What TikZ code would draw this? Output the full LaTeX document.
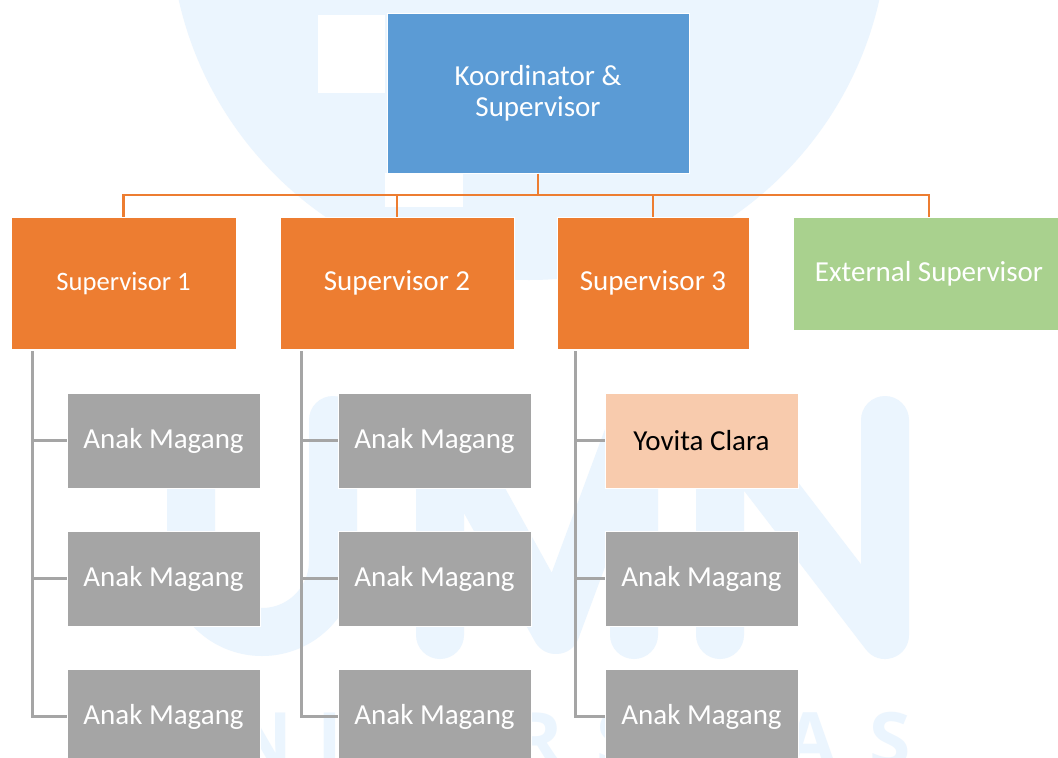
\documentclass[tikz,border=0pt]{standalone}
\usepackage{fontspec}
\setmainfont{Carlito}
\newfontfamily\markfont{Open Sans}

\definecolor{bossblue}{HTML}{5B9BD5}
\definecolor{suporange}{HTML}{ED7D31}
\definecolor{extgreen}{HTML}{A9D18E}
\definecolor{interngray}{HTML}{A5A5A5}
\definecolor{mepeach}{HTML}{F8CBAD}
\definecolor{markblue}{HTML}{EBF5FE}

\tikzset{
        box/.style={draw=white, line width=1pt, inner sep=0pt, text=white, align=center, font=\fontsize{29}{31}\selectfont},
        boss/.style={box, fill=bossblue, minimum width=302pt, minimum height=160pt},
        sup/.style={box, fill=suporange, minimum height=132pt},
        ext/.style={box, fill=extgreen, minimum width=272pt, minimum height=113pt},
        intern/.style={box, fill=interngray, minimum width=193pt, minimum height=95pt},
        me/.style={intern, fill=mepeach, text=black},
        orgline/.style={draw=suporange, line width=2.8pt},
        subline/.style={draw=interngray, line width=3pt},
        wmark/.style={draw=markblue, line width=48pt, line cap=round, line join=round},
        wtext/.style={text=markblue, inner sep=0pt, anchor=base, font=\markfont\bfseries\fontsize{75}{75}\selectfont}
          }

\begin{document}
\begin{tikzpicture}[x=1pt, y=-1pt]
  \useasboundingbox (0,0) rectangle (1058,758);
  \clip (0,0) rectangle (1058,758);
  \fill[white] (0,0) rectangle (1058,758);

  % logo in the background
  \fill[markblue] (529,-79) circle (359);
  \fill[white] (318,15) rectangle (385,93);
  \fill[white] (385,173) rectangle (463,207);
  \draw[wmark] (191,420) -- (191,561) arc (180:0:71) -- (333,420);
  \draw[wmark] (440,635) -- (440,420) -- (556,630) -- (634,420) -- (634,635);
  \draw[wmark] (720,635) -- (720,420) -- (885,635) -- (885,420);
  \foreach \ch/\x [count=\i] in {N/262,I/330,R/538,S/617,A/810,S/890}
    \node[wtext] (w\i) at (\x,766) {\ch};

  % top of the chart
  \node[boss] (koord) at (538,93) {Koordinator \&\\Supervisor};
  \node[sup, minimum width=225pt, font=\fontsize{26.6}{30}\selectfont] (sup1) at (123.5,283) {Supervisor 1};
  \node[sup, minimum width=234pt] (sup2) at (397,283) {Supervisor 2};
  \node[sup, minimum width=192pt] (sup3) at (653,283) {Supervisor 3};
  \node[ext] (ext) at (929,273.5) {External Supervisor};

  \coordinate (bus) at (538,195);
  \draw[orgline] (koord.south) -- (bus);
  \foreach \n in {sup1,sup2,sup3,ext}
    \draw[orgline] (bus) -| (\n.north);

  % interns under each supervisor
  \foreach \c/\x in {1/163.5,2/434.5,3/701.5}
    \foreach \r/\y in {1/440.5,2/578.5,3/716.5}{
      \ifnum\c\r=31
        \node[me] (a\c\r) at (\x,\y) {Yovita Clara};
      \else
        \node[intern] (a\c\r) at (\x,\y) {Anak Magang};
      \fi
    }

  \foreach \c/\x in {1/32,2/301,3/575}{
    \coordinate (t\c) at (\x,351);
    \draw[subline] (t\c) |- (a\c3.west);
    \draw[subline] (t\c |- a\c1.west) -- (a\c1.west);
    \draw[subline] (t\c |- a\c2.west) -- (a\c2.west);
  }
\end{tikzpicture}
\end{document}
